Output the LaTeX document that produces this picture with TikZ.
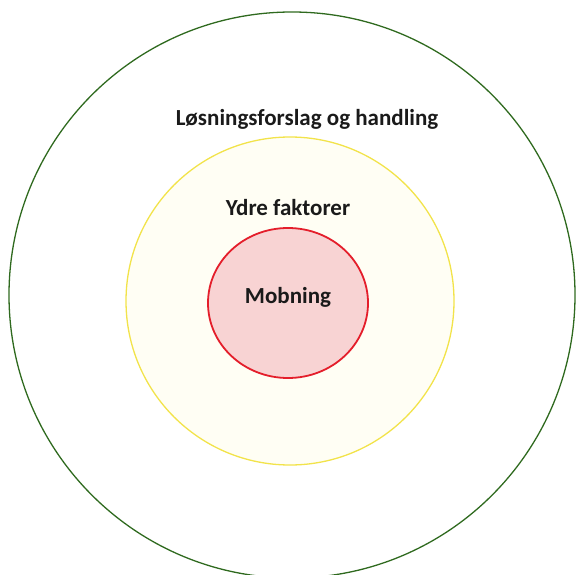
\documentclass[tikz,border=0pt]{standalone}
\usepackage{fontspec}
\setmainfont{Carlito}
\definecolor{outergreen}{HTML}{2F6A1F}
\definecolor{midyellow}{HTML}{F2E34A}
\definecolor{midfill}{HTML}{FFFEF4}
\definecolor{innerred}{HTML}{E41E2B}
\definecolor{innerfill}{HTML}{F8D3D3}
\definecolor{txt}{HTML}{1A1A1A}
\begin{document}
\begin{tikzpicture}[x=1bp,y=-1bp,
  ring/.style={line width=1.3bp},
  lbl/.style={font=\bfseries\fontsize{23bp}{27bp}\selectfont, text=txt, inner sep=0pt}]
\useasboundingbox (0,0) rectangle (576,575);
\clip (0,0) rectangle (576,575);
\draw[ring, outergreen] (292,295) circle[radius=283];
\draw[ring, midyellow, fill=midfill] (290,301) circle[radius=164];
\draw[ring, line width=1.8bp, innerred, fill=innerfill] (288,303) ellipse[x radius=80, y radius=75];
\node[lbl] (outer) at (307,119) {Løsningsforslag og handling};
\node[lbl] (mid) at (288,208) {Ydre faktorer};
\node[lbl] (inner) at (288,297) {Mobning};
\end{tikzpicture}
\end{document}
